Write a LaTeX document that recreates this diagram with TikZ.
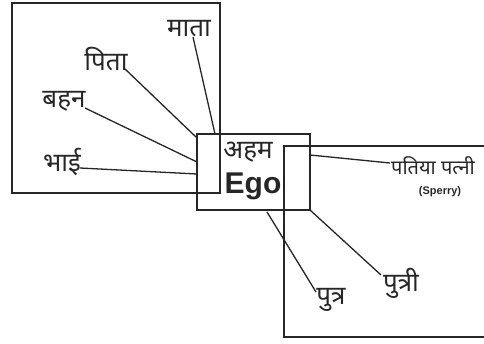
\documentclass[tikz,border=0pt]{standalone}
\usepackage{fontspec}
\setmainfont{Liberation Sans}
\newfontfamily\deva[Script=Devanagari]{Noto Sans}
\begin{document}
\begin{tikzpicture}[x=1pt,y=-1pt,
  box/.style={draw=black!85, line width=1.3pt},
  conn/.style={draw=black!85, line width=1.3pt},
  hin/.style={font=\deva\fontsize{26}{28}\selectfont, inner sep=0pt, text=black!85},
]
\useasboundingbox (0,0) rectangle (484,344);
% boxes
\draw[box] (12,3) rectangle (220,193);
\draw[box] (284,146) rectangle (490,337);
\draw[box] (197,134) rectangle (310,210);
% ego labels
\node[hin] (aham) at (248,152) {अहम};
\node[font=\bfseries\fontsize{30}{32}\selectfont, inner sep=0pt, text=black!85] (ego) at (253,186) {Ego};
% relatives
\node[hin] (mata) at (189,29) {माता};
\node[hin] (pita) at (106,59) {पिता};
\node[hin] (bahan) at (64,101) {बहन};
\node[hin] (bhai) at (62,162) {भाई};
\node[hin, font=\deva\fontsize{20}{22}\selectfont, anchor=west] (pati) at (391,166) {पतिया पत्नी};
\node[font=\bfseries\fontsize{11}{12}\selectfont, inner sep=0pt, text=black!85] (sperry) at (440,192) {(Sperry)};
\node[hin] (putra) at (331,300) {पुत्र};
\node[hin] (putri) at (401,283) {पुत्री};
% connector end points on the ego box
\coordinate (e1) at (215,134);
\coordinate (e2) at (197,138);
\coordinate (e3) at (197,162);
\coordinate (e4) at (197,174);
\coordinate (e5) at (310,155);
\coordinate (e6) at (267,212);
\coordinate (e7) at (310,210);
\coordinate (s1) at (193,37);
\coordinate (s2) at (124,68);
\coordinate (s3) at (85,108);
\coordinate (s4) at (80,168);
\coordinate (s5) at (390,163);
\coordinate (s6) at (316,292);
\coordinate (s7) at (381,275);
\draw[conn] (s1) -- (e1);
\draw[conn] (s2) -- (e2);
\draw[conn] (s3) -- (e3);
\draw[conn] (s4) -- (e4);
\draw[conn] (e5) -- (s5);
\draw[conn] (e6) -- (s6);
\draw[conn] (e7) -- (s7);
\end{tikzpicture}
\end{document}
